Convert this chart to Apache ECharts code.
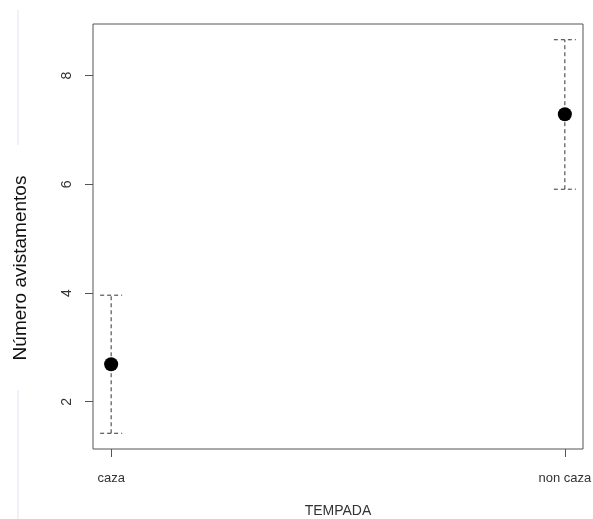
<!DOCTYPE html>
<html>
<head>
<meta charset="utf-8">
<script src="https://cdn.jsdelivr.net/npm/echarts@6/dist/echarts.min.js"></script>
<style>
html,body{margin:0;padding:0;background:#fff;}
#chart{width:593px;height:519px;}
</style>
</head>
<body>
<div id="chart"></div>
<script>
// Sightings per hunting season: mean with interval bounds
var categories = ['caza', 'non caza'];
var means = [2.69, 7.29];
var lower = [1.42, 5.91];
var upper = [3.96, 8.66];
var yTicks = [2, 4, 6, 8];

var xPos = categories.map(function (c, i) { return i + 1; });

// axis ranges padded 4% beyond the data, as in base R plots
var yMinData = Math.min.apply(null, lower), yMaxData = Math.max.apply(null, upper);
var yPad = (yMaxData - yMinData) * 0.04;
var xPad = (xPos[xPos.length - 1] - xPos[0]) * 0.04;

var font = 'Liberation Sans, Arial, sans-serif';
var chart = echarts.init(document.getElementById('chart'), null, {renderer: 'canvas'});

var barData = xPos.map(function (x, i) { return [x, lower[i], upper[i]]; });
var pointData = xPos.map(function (x, i) { return [x, means[i]]; });

chart.setOption({
  animation: false,
  backgroundColor: '#fff',
  grid: {left: 93, top: 24, width: 490, height: 425, show: true, outerBoundsMode: 'none',
         containLabel: false,
         borderColor: '#555', borderWidth: 1, backgroundColor: 'transparent'},
  xAxis: {
    type: 'value', min: xPos[0] - xPad, max: xPos[xPos.length - 1] + xPad,
    axisLine: {show: false}, splitLine: {show: false},
    axisTick: {show: true, customValues: xPos, length: 8, inside: false,
               lineStyle: {color: '#555', width: 1}},
    axisLabel: {customValues: xPos, margin: 23, fontSize: 13, color: '#333', fontFamily: font,
                formatter: function (v) { return categories[Math.round(v) - 1]; }},
    name: 'TEMPADA', nameLocation: 'middle', nameGap: 55,
    nameTextStyle: {fontSize: 14, color: '#333', fontFamily: font}
  },
  yAxis: {
    type: 'value', min: yMinData - yPad, max: yMaxData + yPad,
    axisLine: {show: false}, splitLine: {show: false},
    axisTick: {show: true, customValues: yTicks, length: 8, inside: false,
               lineStyle: {color: '#555', width: 1}},
    axisLabel: {customValues: yTicks, rotate: 90, margin: 19, fontSize: 14, color: '#333', fontFamily: font}
  },
  graphic: [
    {type: 'line', shape: {x1: 18, y1: 10, x2: 18, y2: 145}, style: {stroke: '#dde6f1', lineWidth: 1}, silent: true},
    {type: 'line', shape: {x1: 18, y1: 390, x2: 18, y2: 519}, style: {stroke: '#dde6f1', lineWidth: 1}, silent: true},
    {type: 'text', x: 21, y: 268, rotation: Math.PI / 2,
     style: {text: 'Número avistamentos', fontSize: 19, fill: '#111', fontFamily: font,
             textAlign: 'center', textVerticalAlign: 'middle'}}
  ],
  series: [
    {
      type: 'custom',
      data: barData,
      renderItem: function (params, api) {
        var x = api.value(0);
        var lo = api.coord([x, api.value(1)]);
        var hi = api.coord([x, api.value(2)]);
        var cap = 11;
        var st = {stroke: '#333', lineWidth: 1, lineDash: [4, 3]};
        return {
          type: 'group',
          children: [
            {type: 'line', shape: {x1: lo[0], y1: lo[1], x2: hi[0], y2: hi[1]}, style: st},
            {type: 'line', shape: {x1: hi[0] - cap, y1: hi[1], x2: hi[0] + cap, y2: hi[1]}, style: st},
            {type: 'line', shape: {x1: lo[0] - cap, y1: lo[1], x2: lo[0] + cap, y2: lo[1]}, style: st}
          ]
        };
      },
      z: 2
    },
    {
      type: 'scatter', data: pointData, symbol: 'circle', symbolSize: 14,
      itemStyle: {color: '#000', opacity: 1}, z: 3
    }
  ]
});
</script>
</body>
</html>
